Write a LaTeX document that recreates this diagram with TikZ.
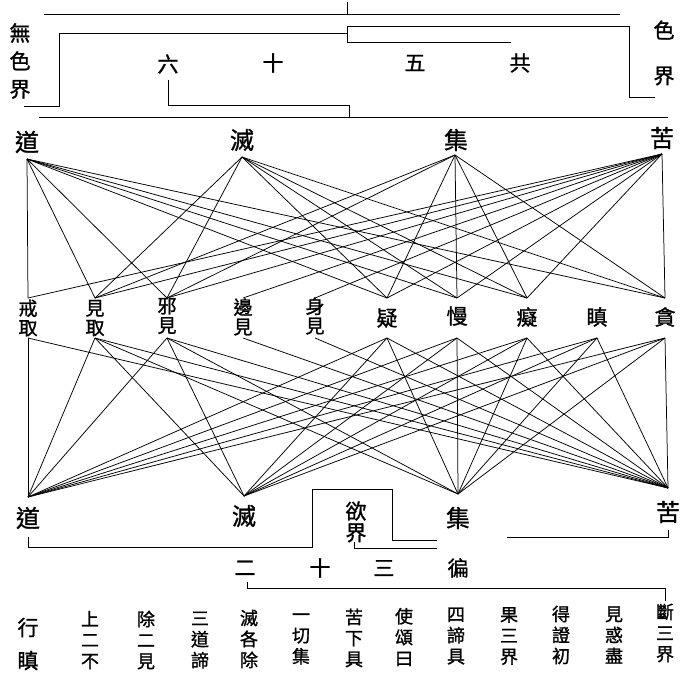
\documentclass[tikz,border=0pt]{standalone}
\usepackage{fontspec}
\newfontfamily\cjk{Noto Sans CJK TC}[FakeBold=1.2]
\begin{document}
\begin{tikzpicture}[x=1pt,y=-1pt,
  conn/.style={line width=0.75pt},
  frm/.style={line width=1pt},
  hd/.style={font=\cjk\fontsize{24}{26}\selectfont, inner sep=0pt},
  mid/.style={font=\cjk\fontsize{19}{19.5}\selectfont, inner sep=0pt, align=center},
  ttl/.style={font=\cjk\fontsize{21}{22}\selectfont, inner sep=0pt},
  side/.style={font=\cjk\fontsize{21}{28}\selectfont, inner sep=0pt, align=center},
  colt/.style={font=\cjk\fontsize{18}{21}\selectfont, inner sep=0pt, align=center},
  colb/.style={font=\cjk\fontsize{21}{33}\selectfont, inner sep=0pt, align=center},
]
\useasboundingbox (0,0) rectangle (684,675);

% ---------- upper frame ----------
\node[side] (wusejie) at (20,61) {無\\色\\界};
\node[ttl] (se) at (664,30) {色};
\node[ttl] (sejie) at (664,76) {界};
\node[ttl] (liu) at (168,64) {六};
\node[ttl] (shiA) at (273,63) {十};
\node[ttl] (wu) at (415,63) {五};
\node[ttl] (gong) at (520,63) {共};

\coordinate (fa1) at (44,14);
\coordinate (fa2) at (620,14);
\coordinate (tk1) at (347,2);
\coordinate (tk2) at (347,14);
\draw[frm] (fa1) -- (fa2);
\draw[frm] (tk1) -- (tk2);
\coordinate (wl0) at (24,106);
\coordinate (wl1) at (59,106);
\coordinate (wl2) at (59,33);
\coordinate (jn1) at (347,33);
\draw[frm] (wl0) -- (wl1) -- (wl2) -- (jn1);
\coordinate (jn0) at (347,26);
\coordinate (sl1) at (629,26);
\coordinate (sl2) at (629,97);
\coordinate (sl3) at (655,97);
\draw[frm] (jn0) -- (sl1) -- (sl2) -- (sl3);
\coordinate (jn2) at (347,42);
\coordinate (gl) at (511,42);
\draw[frm] (jn0) -- (jn2) -- (gl);
\coordinate (lb1) at (168,80);
\coordinate (lb2) at (168,105);
\coordinate (lb3) at (349,105);
\coordinate (lb4) at (349,117);
\draw[frm] (lb1) -- (lb2) -- (lb3) -- (lb4);
\coordinate (ul1) at (39,117);
\coordinate (ul2) at (668,117);
\draw[frm] (ul1) -- (ul2);

% ---------- top row ----------
\node[hd] (tD) at (27,142) {道};
\node[hd] (tM) at (242,140) {滅};
\node[hd] (tJ) at (456,140) {集};
\node[hd] (tK) at (662,138) {苦};
\coordinate (tDa) at (27,159);
\coordinate (tMa) at (242,157);
\coordinate (tJa) at (455,155);
\coordinate (tKa) at (662,154);

% ---------- middle row ----------
\node[mid] (m1) at (28,318) {戒\\取};
\node[mid] (m2) at (95,318) {見\\取};
\node[mid] (m3) at (167,316) {邪\\見};
\node[mid] (m4) at (243,317) {邊\\見};
\node[mid] (m5) at (315,316) {身\\見};
\node[ttl] (m6) at (387,318) {疑};
\node[ttl] (m7) at (457,316) {慢};
\node[ttl] (m8) at (527,317) {癡};
\node[ttl] (m9) at (597,317) {瞋};
\node[ttl] (m10) at (665,317) {貪};
\foreach \i/\x in {1/28,2/95,3/167,4/243,5/315,6/387,7/457,8/527,9/597,10/665}{
  \coordinate (m\i t) at (\x,298);
  \coordinate (m\i b) at (\x,338);
}

% ---------- bottom row ----------
\node[hd] (bD) at (28,518) {道};
\node[hd] (bM) at (244,516) {滅};
\node[hd] (bJ) at (458,518) {集};
\node[hd] (bK) at (668,512) {苦};
\coordinate (bDa) at (28,497);
\coordinate (bMa) at (244,496);
\coordinate (bJa) at (458,494);
\coordinate (bKa) at (668,488);

% ---------- connectors, upper realms ----------
\foreach \i in {1,2,3,4,5,6,7,8,10} \draw[conn] (tKa) -- (m\i t);
\foreach \i in {2,3,6,7,8,10} \draw[conn] (tJa) -- (m\i t);
\foreach \i in {2,3,6,7,8,10} \draw[conn] (tMa) -- (m\i t);
\foreach \i in {1,2,3,6,7,8,10} \draw[conn] (tDa) -- (m\i t);

% ---------- connectors, desire realm ----------
\foreach \i in {1,2,3,4,5,6,7,8,9,10} \draw[conn] (bKa) -- (m\i b);
\foreach \i in {2,3,6,7,8,9,10} \draw[conn] (bJa) -- (m\i b);
\foreach \i in {2,3,6,7,8,9,10} \draw[conn] (bMa) -- (m\i b);
\foreach \i in {1,2,3,6,7,8,9,10} \draw[conn] (bDa) -- (m\i b);

% ---------- lower frame ----------
\node[ttl] (yu) at (356,511) {欲};
\node[ttl] (yujie) at (356,533) {界};
\coordinate (dl1) at (28,537);
\coordinate (dl2) at (28,547);
\coordinate (bx1) at (312,547);
\coordinate (bx2) at (312,489);
\coordinate (bx3) at (392,489);
\coordinate (bx4) at (392,540);
\coordinate (bx5) at (437,540);
\draw[frm] (dl1) -- (dl2) -- (bx1) -- (bx2) -- (bx3) -- (bx4) -- (bx5);
\coordinate (yl1) at (354,542);
\coordinate (yl2) at (354,548);
\coordinate (yl3) at (437,548);
\draw[frm] (yl1) -- (yl2) -- (yl3);
\coordinate (kl1) at (668,530);
\coordinate (kl2) at (668,537);
\coordinate (kl3) at (507,537);
\draw[frm] (kl1) -- (kl2) -- (kl3);

\node[ttl] (er) at (245,568) {二};
\node[ttl] (shiB) at (320,568) {十};
\node[ttl] (san) at (384,568) {三};
\node[ttl] (bian) at (458,568) {徧};

\coordinate (vb1) at (247,582);
\coordinate (vb2) at (247,588);
\coordinate (vb3) at (665,588);
\coordinate (vb4) at (665,601);
\draw[frm] (vb1) -- (vb2) -- (vb3) -- (vb4);

% ---------- verse columns ----------
\node[colb] (c1) at (28,644) {行\\瞋};
\node[colt] (c2) at (90,640) {上\\二\\不};
\node[colt] (c3) at (146,640) {除\\二\\見};
\node[colt] (c4) at (200,640) {三\\道\\諦};
\node[colt] (c5) at (249,639) {滅\\各\\除};
\node[colt] (c6) at (301,639) {一\\切\\集};
\node[colt] (c7) at (354,638) {苦\\下\\具};
\node[colt] (c8) at (404,637) {使\\頌\\曰};
\node[colt] (c9) at (456,636) {四\\諦\\具};
\node[colt] (c10) at (509,636) {果\\三\\界};
\node[colt] (c11) at (561,635) {得\\證\\初};
\node[colt] (c12) at (614,635) {見\\惑\\盡};
\node[colt] (c13) at (665,633) {斷\\三\\界};
\end{tikzpicture}
\end{document}
